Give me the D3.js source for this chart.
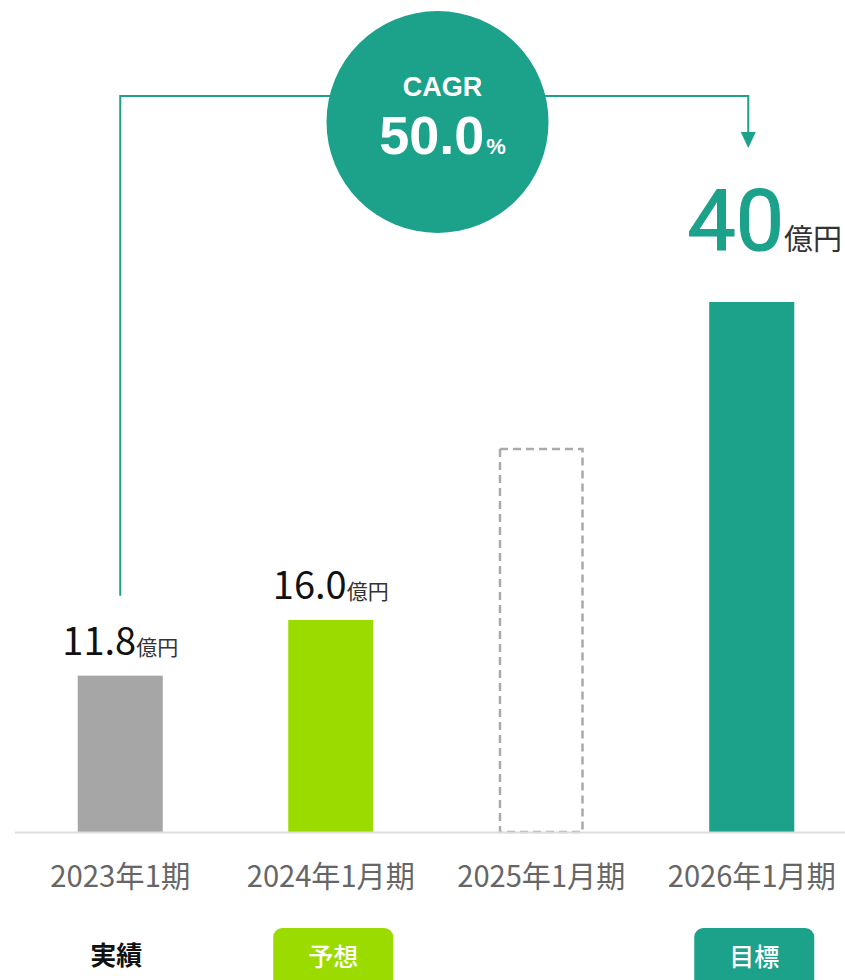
<!DOCTYPE html>
<html><head><meta charset="utf-8">
<script src="https://cdn.jsdelivr.net/npm/d3@7"></script>
<style>html,body{margin:0;padding:0;background:#fff;}svg{display:block;}</style>
</head><body>
<script>
const categories = ["2023年1期", "2024年1月期", "2025年1月期", "2026年1月期"];
const values = [11.8, 16.0, 29.0, 40];
const valueLabels = ["11.8", "16.0", null, "40"];
const unitLabel = "億円";
const statusLabels = ["実績", "予想", null, "目標"];
const cagrTitle = "CAGR";
const cagrValue = "50.0";

const W = 845, H = 980;
const teal = "#1ca18b", green = "#9bdb00", gray = "#a6a6a6";
const jp = "'Noto Sans CJK JP','Noto Sans',sans-serif";

const svg = d3.select("body").append("svg").attr("width", W).attr("height", H);

const x = d3.scaleBand().domain(categories).range([15, 857]).paddingInner(0.596).paddingOuter(0.298);
const y = d3.scaleLinear().domain([0, 40]).range([832, 302]);
const cx = c => x(c) + x.bandwidth() / 2;

// bars
const fills = [gray, green, "none", teal];
categories.forEach((c, i) => {
  if (i === 2) {
    svg.append("rect").attr("x", x(c) + 1.25).attr("y", y(values[i]) + 1.25)
      .attr("width", x.bandwidth() - 2.5).attr("height", y(0) - y(values[i]) - 1.25)
      .attr("fill", "none").attr("stroke", "#aaaaaa").attr("stroke-width", 2.5)
      .attr("stroke-dasharray", "8,5");
  } else {
    svg.append("rect").attr("x", x(c)).attr("y", y(values[i]))
      .attr("width", x.bandwidth()).attr("height", y(0) - y(values[i]))
      .attr("fill", fills[i]);
  }
});

// baseline
svg.append("line").attr("x1", 15).attr("x2", W).attr("y1", y(0) + 0.5).attr("y2", y(0) + 0.5)
  .attr("stroke", "#dddddd").attr("stroke-width", 2);

// x labels
categories.forEach((c, i) => {
  svg.append("text").attr("x", cx(c)).attr("y", 887).attr("text-anchor", "middle")
    .attr("font-family", jp).attr("font-size", 30).attr("fill", "#666666")
    .attr("textLength", i === 0 ? 140 : 168).attr("lengthAdjust", "spacingAndGlyphs")
    .text(c);
});

// value labels
[0, 1].forEach(i => {
  const t = svg.append("text").attr("x", cx(categories[i])).attr("y", y(values[i]) - 21)
    .attr("text-anchor", "middle").attr("font-family", jp).attr("fill", "#111111");
  t.append("tspan").attr("font-size", 38).text(valueLabels[i]);
  t.append("tspan").attr("font-size", 21).attr("fill", "#333333").text(unitLabel);
});
{
  const i = 3;
  const t = svg.append("text").attr("x", cx(categories[i]) + 13).attr("y", y(values[i]) - 52)
    .attr("text-anchor", "middle").attr("font-family", "Roboto,'Noto Sans',sans-serif");
  t.append("tspan").attr("font-size", 86).attr("font-weight", 400).attr("fill", teal)
    .attr("stroke", teal).attr("stroke-width", 1.2).text(valueLabels[i]);
  t.append("tspan").attr("font-size", 29).attr("font-family", jp).attr("fill", "#333333").text(unitLabel);
}

// connector
const lineY = 96;
const x0 = cx(categories[0]), x3 = cx(categories[3]) - 3.5;
svg.append("path")
  .attr("d", `M${x0},${y(values[0]) - 80}V${lineY}H${x3}V${134}`)
  .attr("fill", "none").attr("stroke", teal).attr("stroke-width", 2);
svg.append("path")
  .attr("d", `M${x3 - 7.5},132L${x3 + 7.5},132L${x3},148Z`).attr("fill", teal);

// CAGR circle
const ccx = 437.5, ccy = 122, r = 111;
svg.append("circle").attr("cx", ccx).attr("cy", ccy).attr("r", r).attr("fill", teal);
svg.append("text").attr("x", ccx + 5).attr("y", 96).attr("text-anchor", "middle")
  .attr("font-family", "'Liberation Sans',Arial,sans-serif").attr("font-weight", "bold")
  .attr("font-size", 27).attr("fill", "#fff").text(cagrTitle);
{
  const t = svg.append("text").attr("x", ccx + 5).attr("y", 154).attr("text-anchor", "middle")
    .attr("font-family", "'Liberation Sans',Arial,sans-serif").attr("font-weight", "bold").attr("fill", "#fff");
  t.append("tspan").attr("font-size", 54).text(cagrValue);
  t.append("tspan").attr("font-size", 22).attr("dx", 2).text("%");
}

// status tags
statusLabels.forEach((s, i) => {
  if (!s) return;
  const c = cx(categories[i]) + (i === 0 ? -4 : 2.5);
  if (i === 0) {
    svg.append("text").attr("x", c).attr("y", 965).attr("text-anchor", "middle")
      .attr("font-family", jp).attr("font-weight", "bold").attr("font-size", 26)
      .attr("fill", "#111").text(s);
  } else {
    svg.append("rect").attr("x", c - 60).attr("y", 928).attr("width", 120).attr("height", 70)
      .attr("rx", 9).attr("fill", i === 1 ? green : teal);
    svg.append("text").attr("x", c).attr("y", 966).attr("text-anchor", "middle")
      .attr("font-family", jp).attr("font-weight", 500).attr("font-size", 25)
      .attr("fill", "#fff").text(s);
  }
});
</script>
</body></html>
